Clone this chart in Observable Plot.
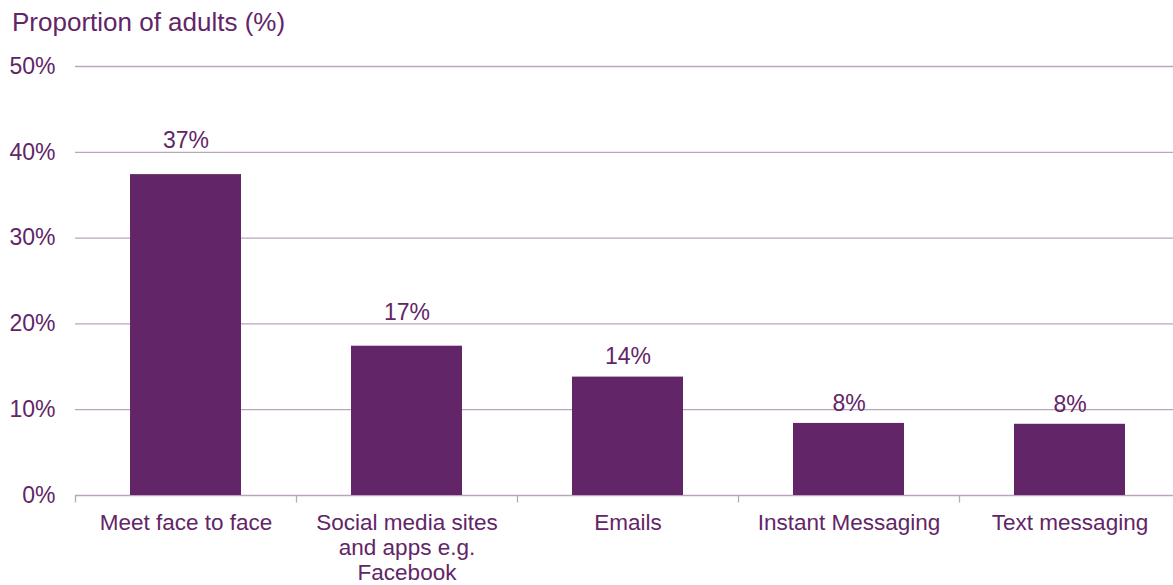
<!DOCTYPE html>
<html>
<head>
<meta charset="utf-8">
<script src="https://cdn.jsdelivr.net/npm/d3@7"></script>
<script src="https://cdn.jsdelivr.net/npm/@observablehq/plot@0.6"></script>
<style>
  body { margin: 0; background: #fff; font-family: "Liberation Sans", Arial, sans-serif; overflow: hidden; }
  #title { height: 40px; box-sizing: border-box; padding: 7px 0 0 12px; font-size: 26px; line-height: 30px; color: #622567; white-space: nowrap; }
</style>
</head>
<body>
<div id="title">Proportion of adults (%)</div>
<div id="chart"></div>
<script>
const categories = ["Meet face to face", "Social media sites and apps e.g. Facebook", "Emails", "Instant Messaging", "Text messaging"];
const values = [37.4, 17.4, 13.8, 8.4, 8.3];
const yTicks = [0, 10, 20, 30, 40, 50];

const data = categories.map((c, i) => ({category: c, value: values[i]}));
const W = 1173, H = 545, ML = 75, MR = -7, MT = 26, MB = 90;
const step = (W - ML - MR) / categories.length;
const purple = "#622567";
const grid = "#b9a6bc";
const fs = 23;

const chart = Plot.plot({
  width: W,
  height: H,
  marginLeft: ML,
  marginRight: MR,
  marginTop: MT,
  marginBottom: MB,
  style: {fontFamily: "'Liberation Sans', Arial, sans-serif", color: purple, background: "#fff", overflow: "hidden"},
  x: {domain: categories, paddingInner: 0.5, paddingOuter: 0.25, label: null},
  y: {domain: [0, 50], label: null},
  marks: [
    Plot.ruleY(yTicks, {stroke: grid, strokeWidth: 1.3}),
    Plot.ruleX(categories, {x: d => d, dx: -step / 2, y1: 0, y2: -0.87, stroke: grid, strokeWidth: 1.3}),
    Plot.barY(data, {x: "category", y: "value", fill: purple}),
    Plot.text(data, {filter: d => d.value >= 15, x: "category", y: "value", text: d => Math.round(d.value) + "%", dy: -34, fontSize: fs, fill: purple}),
    Plot.text(data, {filter: d => d.value < 15, x: "category", y: "value", text: d => Math.round(d.value) + "%", dy: -20, fontSize: fs, fill: purple}),
    Plot.axisY(yTicks, {tickSize: 0, tickPadding: 20, fontSize: fs, fill: purple, tickFormat: d => d + "%", label: null}),
    Plot.axisX({tickSize: 0, tickPadding: 17, fontSize: 22.5, fill: purple, lineWidth: 9, lineHeight: 1.11, label: null})
  ]
});
document.getElementById("chart").appendChild(chart);
</script>
</body>
</html>
